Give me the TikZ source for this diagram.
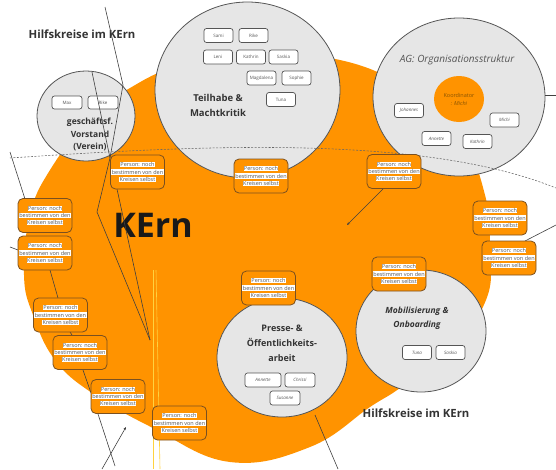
\documentclass[tikz,border=0pt]{standalone}
\usepackage{fontspec}
\setmainfont{Open Sans}
\usetikzlibrary{arrows.meta,shapes.geometric}
\definecolor{kor}{HTML}{FF9300}
\definecolor{cgray}{HTML}{E6E6E6}
\definecolor{edge}{HTML}{555555}
\definecolor{pbord}{HTML}{7A5020}
\definecolor{ttext}{HTML}{333333}
\definecolor{kortext}{HTML}{8A5400}
\definecolor{ylw}{HTML}{FFD23F}
\newcommand\pl[1]{\colorbox{white}{#1}}
\setlength{\fboxsep}{0.4pt}
\tikzset{
 pbox/.style={draw=pbord, fill=kor, line width=0.8pt, rounded corners=5pt, minimum width=54pt, minimum height=34pt, inner sep=0pt, align=center, font=\fontsize{5.5}{7.2}\selectfont, text=edge},
 nbox/.style={draw=edge, fill=white, line width=0.7pt, rounded corners=2.5pt, minimum width=29pt, minimum height=14pt, inner sep=0pt, font=\fontsize{4.5}{5}\selectfont, text=edge},
 ibox/.style={nbox, font=\fontsize{4.5}{5}\selectfont\itshape},
 circ/.style={draw=edge, fill=cgray, line width=0.8pt, ellipse, inner sep=0pt},
 conn/.style={draw=black!75, line width=0.6pt},
 ttl/.style={font=\fontsize{9.5}{15}\selectfont\bfseries, text=ttext, align=center},
 big/.style={font=\fontsize{11.3}{13}\selectfont\bfseries, text=ttext},
}
\newcommand\ptext{\pl{Person: noch}\\\pl{bestimmen von den}\\\pl{Kreisen selbst}}
\begin{document}
\begin{tikzpicture}[x=1pt,y=-1pt]
\useasboundingbox (0,0) rectangle (556,469);
% big orange area
\fill[kor] plot[smooth cycle, tension=0.7] coordinates {(256,56) (340,60) (410,90) (460,135) (485,195) (490,250) (486,300) (450,350) (400,388) (370,407) (310,447) (230,462) (153,428) (92,393) (55,360) (33,315) (24,275) (30,215) (50,170) (90,118) (130,88) (180,66)};
% yellow lines
\draw[ylw, line width=0.6pt] (153,270) -- (153,469);
\draw[ylw, line width=0.6pt] (156,270) -- (160,469);
% circles
\node[circ, minimum width=185pt, minimum height=176pt] (teil) at (247.5,90) {};
\node[circ, minimum width=172pt, minimum height=158pt] (ag) at (459,97) {};
\node[circ, minimum width=98pt, minimum height=90pt] (vor) at (86,116) {};
\node[circ, minimum width=130pt, minimum height=119pt] (pres) at (282,357.5) {};
\node[circ, minimum width=130pt, minimum height=122pt] (mob) at (421,331) {};
\node[fill=kor, ellipse, minimum width=50pt, minimum height=46pt, inner sep=0pt] (koord) at (459,99) {};
\node[align=center, text=kortext, font=\fontsize{5.5}{8}\selectfont] (koordt) at (459,99) {Koordinator\\\textit{: Michi}};
% titles
\node[big] (h1) at (82,34) {Hilfskreise im KErn};
\node[big] (h2) at (416,413) {Hilfskreise im KErn};
\node[font=\fontsize{34}{40}\selectfont\bfseries, text=black!90] (kern) at (153,225) {KErn};
\node[ttl] (teilt) at (218,105.5) {Teilhabe \&\\Machtkritik};
\node[font=\fontsize{10}{12}\selectfont\itshape, text=edge] (agt) at (457,60) {AG: Organisationsstruktur};
\node[ttl, font=\fontsize{8.5}{12.5}\selectfont\bfseries] (vort) at (90,134.5) {geschäftsf.\\Vorstand\\(Verein)};
\node[ttl, font=\fontsize{9}{15}\selectfont\bfseries] (prest) at (282,343) {Presse- \&\\Öffentlichkeits-\\arbeit};
\node[ttl, font=\fontsize{8.5}{13.5}\selectfont\bfseries\itshape] (mobt) at (417,318.5) {Mobilisierung \&\\Onboarding};
% name boxes
\node[nbox] (n1) at (218.5,35.5) {Sami};
\node[nbox] (n2) at (253.5,35.5) {Rike};
\node[nbox] (n3) at (218,57) {Leni};
\node[nbox] (n4) at (251,57) {Kathrin};
\node[nbox] (n5) at (283.5,57) {Saskia};
\node[nbox] (n6) at (261.5,78) {Magdalena};
\node[nbox] (n7) at (296.5,78) {Sophie};
\node[nbox] (n8) at (281,99.5) {Tuna};
\node[nbox, minimum width=30pt, minimum height=13pt] (n9) at (67,102.5) {Max};
\node[nbox, minimum width=30pt, minimum height=13pt] (n10) at (103,102.5) {Rike};
\node[ibox] (n11) at (409,110.5) {Johannes};
\node[ibox] (n12) at (504.5,120) {Michi};
\node[ibox] (n13) at (436.5,138.5) {Annette};
\node[ibox] (n14) at (477.5,141.5) {Kathrin};
\node[ibox, minimum width=36pt] (n15) at (263,380) {Annette};
\node[ibox, minimum width=30pt] (n16) at (300,380) {Chrissi};
\node[ibox, minimum width=30pt] (n17) at (285,398) {Susanne};
\node[ibox] (n18) at (417,352.5) {Tuna};
\node[ibox] (n19) at (450.5,352.5) {Saskia};
% connector coordinates
\coordinate (a1) at (105,7);
\coordinate (a2) at (123,85);
\coordinate (a3) at (92,72);
\coordinate (j1) at (110,158);
\coordinate (a4) at (97,212);
\coordinate (j2) at (150,340);
\coordinate (b1) at (117,189);
\coordinate (c1) at (10,152);
\coordinate (c2) at (25,199);
\coordinate (c3) at (10,247);
\coordinate (c4) at (18,250);
\coordinate (c5) at (50,270);
\coordinate (c6) at (58,298);
\coordinate (c7) at (70,332);
\coordinate (c8) at (72,335);
\coordinate (c9) at (83,370);
\coordinate (c10) at (91,393);
\coordinate (c11) at (98,414);
\coordinate (c12) at (115,466);
\coordinate (c13) at (102,469);
\coordinate (c14) at (126,427);
\coordinate (d1) at (383,189);
\coordinate (d2) at (347,225);
\coordinate (d3) at (525,241);
\coordinate (d4) at (556,225);
\coordinate (d5) at (315,415);
\coordinate (d6) at (338,469);
\coordinate (d7) at (545,95);
\coordinate (d8) at (556,95);
\coordinate (e1) at (10,158);
\coordinate (e2) at (556,188);
% connectors
\draw[conn] (a1) -- (a2) -- (j1);
\draw[conn] (a3) -- (j1);
\draw[conn] (j1) -- (a4) -- (j2);
\draw[conn] (b1) -- (j2);
\draw[conn] (c1) -- (c2);
\draw[conn] (c3) -- (c4);
\draw[conn] (c5) -- (c6);
\draw[conn] (c7) -- (c8);
\draw[conn] (c9) -- (c10);
\draw[conn] (c11) -- (c12);
\draw[conn, -{Stealth[length=3pt,width=2.5pt]}] (c13) -- (c14);
\draw[conn, -{Stealth[length=3pt,width=2.5pt]}] (d1) -- (d2);
\draw[conn] (d3) -- (d4);
\draw[conn] (d5) -- (d6);
\draw[conn] (d7) -- (d8);
\draw[draw=black!60, line width=0.55pt, dash pattern=on 2pt off 1.5pt] (e1) .. controls (190,146) and (420,133) .. (e2);
% person boxes
\node[pbox] (p1) at (137.5,172) {\ptext};
\node[pbox] (p2) at (261,176) {\ptext};
\node[pbox] (p3) at (45,215.5) {\ptext};
\node[pbox] (p4) at (45,253) {\ptext};
\node[pbox] (p5) at (394,171.5) {\ptext};
\node[pbox] (p6) at (500,218) {\ptext};
\node[pbox] (p7) at (509,258) {\ptext};
\node[pbox] (p8) at (399,274) {\ptext};
\node[pbox] (p9) at (268.5,288) {\ptext};
\node[pbox] (p10) at (60.5,315) {\ptext};
\node[pbox] (p11) at (80,352.5) {\ptext};
\node[pbox] (p12) at (118,396.5) {\ptext};
\node[pbox] (p13) at (179.5,423) {\ptext};
\end{tikzpicture}
\end{document}
